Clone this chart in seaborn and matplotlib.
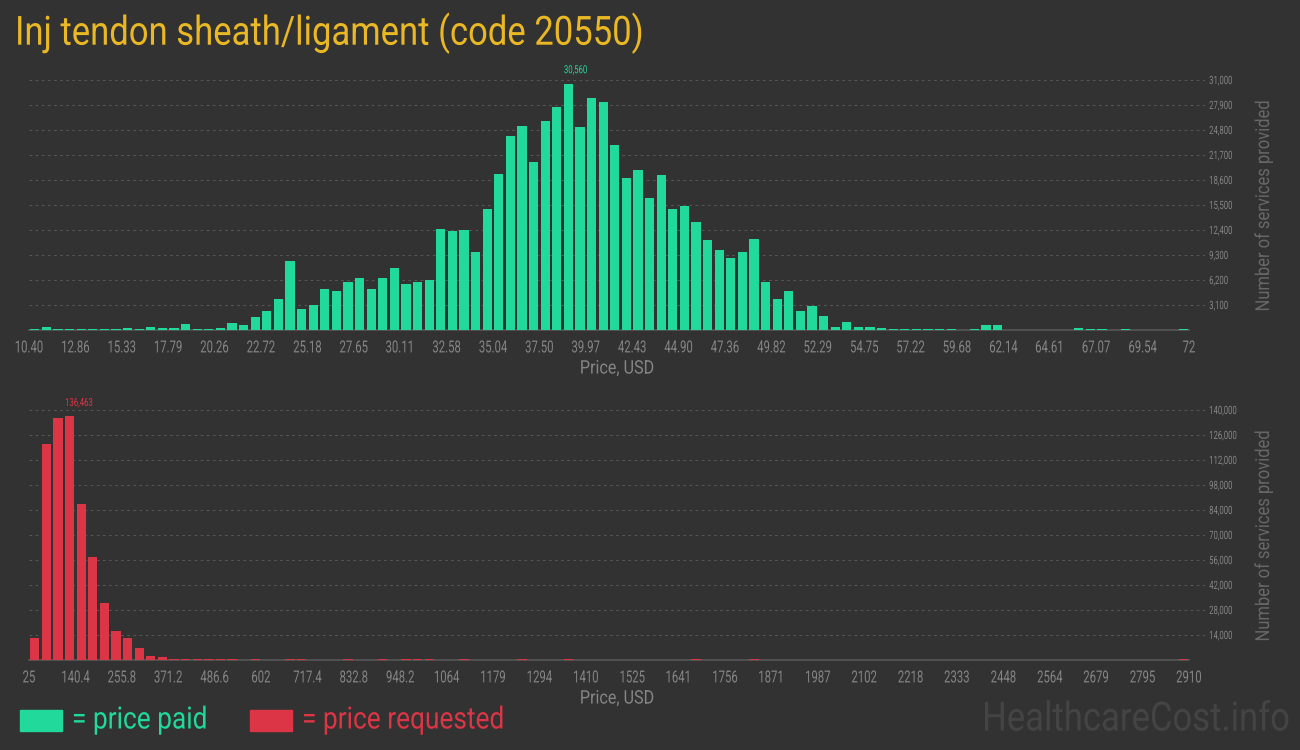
import numpy as np
import pandas as pd
import matplotlib
matplotlib.use("Agg")
import matplotlib.pyplot as plt
import seaborn as sns
from matplotlib.patches import Rectangle
from matplotlib.patheffects import AbstractPathEffect
from matplotlib.transforms import Affine2D

# ---------------- data ----------------
paid_min, paid_max = 10.40, 72.0
paid_counts = [
    160, 410, 170, 160, 160, 160, 160, 170, 290, 170,
    410, 290, 290, 790, 160, 170, 290, 910, 660, 1650,
    2400, 3890, 8600, 2650, 3140, 5130, 4880, 5990, 6490, 5130,
    6490, 7730, 5750, 5990, 6240, 12560, 12320, 12440, 9710, 15040,
    19380, 24090, 25330, 20870, 25950, 27690, 30560, 25210, 28810, 28310,
    22980, 18890, 19880, 16410, 19260, 15040, 15420, 13430, 11200, 9960,
    8970, 9710, 11320, 5990, 3890, 4880, 2400, 3020, 1780, 410,
    1030, 410, 410, 290, 160, 160, 160, 160, 160, 160,
    0, 160, 660, 660, 0, 0, 0, 0, 0, 0,
    290, 170, 160, 0, 160, 0, 0, 0, 0, 160,
]
paid_ticklabels = ["10.40", "12.86", "15.33", "17.79", "20.26", "22.72", "25.18",
                   "27.65", "30.11", "32.58", "35.04", "37.50", "39.97", "42.43",
                   "44.90", "47.36", "49.82", "52.29", "54.75", "57.22", "59.68",
                   "62.14", "64.61", "67.07", "69.54", "72"]
paid_yticks = [3100, 6200, 9300, 12400, 15500, 18600, 21700, 24800, 27900, 31000]

req_min, req_max = 25.0, 2910.0
req_counts = [
    12500, 121200, 135700, 136463, 87560, 57870, 32110, 16430, 12510, 6910,
    2430, 1870, 350, 750, 350, 350, 350, 350, 0, 350,
    0, 0, 350, 350, 0, 0, 0, 350, 0, 0,
    350, 0, 350, 350, 350, 0, 0, 350, 0, 0,
    0, 0, 350, 0, 0, 0, 350, 0, 0, 0,
    0, 0, 0, 0, 0, 0, 0, 350, 0, 0,
    0, 0, 350, 0, 0, 0, 0, 0, 0, 0,
    0, 0, 0, 0, 0, 0, 0, 0, 0, 0,
    0, 0, 0, 0, 0, 0, 0, 0, 0, 0,
    0, 0, 0, 0, 0, 0, 0, 0, 0, 350,
]
req_ticklabels = ["25", "140.4", "255.8", "371.2", "486.6", "602", "717.4", "832.8",
                  "948.2", "1064", "1179", "1294", "1410", "1525", "1641", "1756",
                  "1871", "1987", "2102", "2218", "2333", "2448", "2564", "2679",
                  "2795", "2910"]
req_yticks = [14000, 28000, 42000, 56000, 70000, 84000, 98000, 112000, 126000, 140000]

# ---------------- style ----------------
BG = "#323232"
GREEN = "#20d99b"
RED = "#dc3545"
GOLD = "#e9b824"
GRAY = "#858585"
GRID = "#555555"

sns.set_theme(style="dark", rc={
    "figure.facecolor": BG, "axes.facecolor": BG, "savefig.facecolor": BG,
    "axes.edgecolor": GRID, "text.color": GRAY, "xtick.color": GRAY,
    "ytick.color": GRAY, "axes.labelcolor": GRAY,
})
FONT = ["Roboto", "DejaVu Sans"]
plt.rcParams["font.family"] = FONT


class Condense(AbstractPathEffect):
    """Draw text horizontally squeezed (condensed look)."""

    def __init__(self, sx=0.8, anchor="center"):
        super().__init__()
        self.sx = sx
        self.anchor = anchor

    def draw_path(self, renderer, gc, tpath, affine, rgbFace=None):
        v = tpath.vertices
        if len(v):
            if self.anchor == "center":
                cx = (v[:, 0].min() + v[:, 0].max()) / 2
            elif self.anchor == "right":
                cx = v[:, 0].max()
            else:
                cx = 0.0
        else:
            cx = 0.0
        t = Affine2D().translate(-cx, 0).scale(self.sx, 1).translate(cx, 0)
        renderer.draw_path(gc, tpath, t + affine, rgbFace)


fig = plt.figure(figsize=(13, 7.5), dpi=100)


def panel(rect, vmin, vmax, counts, ticklabels, yticks, color, ymax):
    ax = fig.add_axes(rect)
    nb = len(counts)
    edges = np.linspace(vmin, vmax, nb + 1)
    centers = (edges[:-1] + edges[1:]) / 2
    df = pd.DataFrame({"price": centers, "n": np.asarray(counts, dtype=float)})
    sns.histplot(data=df, x="price", weights="n", bins=edges.tolist(), shrink=0.78,
                 color=color, alpha=1, linewidth=0, ax=ax, zorder=3)
    px_per_unit = 1160.0 / (vmax - vmin)
    ax.set_xlim(vmin, vmax + 16.0 / px_per_unit)
    ax.set_ylim(0, ymax)
    ax.set_yticks(yticks)
    ax.set_yticklabels([f"{v:,}" for v in yticks], fontsize=8.2)
    ax.yaxis.tick_right()
    ax.tick_params(axis="y", length=0, pad=3, labelcolor=GRAY)
    ax.grid(axis="y", color=GRID, linestyle=(0, (2.5, 3)), linewidth=0.8)
    ax.grid(axis="x", visible=False)
    major = edges[::4]
    ax.set_xticks(major)
    ax.set_xticklabels(ticklabels, fontsize=12)
    ax.set_xticks(edges, minor=True)
    ax.tick_params(axis="x", which="major", length=5, width=1, color=GRID,
                   pad=2.5, labelcolor=GRAY)
    ax.tick_params(axis="x", which="minor", length=3, width=0.8, color=GRID)
    for s in ["top", "left", "right"]:
        ax.spines[s].set_visible(False)
    ax.spines["bottom"].set_bounds(vmin, vmax)
    ax.spines["bottom"].set_color(GRID)
    ax.spines["bottom"].set_zorder(2)
    for lbl in ax.get_xticklabels():
        lbl.set_path_effects([Condense(0.68, "center")])
    for lbl in ax.get_yticklabels():
        lbl.set_path_effects([Condense(0.68, "left")])
    xl = ax.set_xlabel("Price, USD", fontsize=13.5, color="#858585", labelpad=3)
    xl.set_path_effects([Condense(0.86, "center")])
    yl = ax.set_ylabel("Number of services provided", fontsize=14, color="#676767")
    yl.set_path_effects([Condense(0.85, "center")])
    ax.yaxis.set_label_position("right")
    ax.yaxis.set_label_coords((1255 - 29) / 1176, 0.5)
    i = int(np.argmax(counts))
    ann = ax.annotate(f"{counts[i]:,}",
                      xy=(centers[i] - (edges[1] - edges[0]) * 0.39, counts[i]),
                      xytext=(0, 6), textcoords="offset points", ha="left",
                      va="bottom", fontsize=8, color=color)
    ann.set_path_effects([Condense(0.7, "left")])
    return ax


W = 1176 / 1300
panel([29 / 1300, 1 - 330 / 750, W, 250 / 750], paid_min, paid_max, paid_counts,
      paid_ticklabels, paid_yticks, GREEN, 31000)
panel([29 / 1300, 1 - 660 / 750, W, 250 / 750], req_min, req_max, req_counts,
      req_ticklabels, req_yticks, RED, 140000)

t = fig.text(15 / 1300, 1 - 33 / 750, "Inj tendon sheath/ligament (code 20550)",
             fontsize=29, color=GOLD, ha="left", va="center")
t.set_path_effects([Condense(0.86, "left")])

fig.patches.append(Rectangle((20 / 1300, 1 - 731 / 750), 42 / 1300, 21 / 750,
                             transform=fig.transFigure, color=GREEN))
t = fig.text(72 / 1300, 1 - 720 / 750, "= price paid", fontsize=22, color=GREEN,
             ha="left", va="center")
t.set_path_effects([Condense(0.86, "left")])
fig.patches.append(Rectangle((250 / 1300, 1 - 731 / 750), 42 / 1300, 21 / 750,
                             transform=fig.transFigure, color=RED))
t = fig.text(302 / 1300, 1 - 720 / 750, "= price requested", fontsize=22, color=RED,
             ha="left", va="center")
t.set_path_effects([Condense(0.86, "left")])
t = fig.text(1290 / 1300, 1 - 719 / 750, "HealthcareCost.info", fontsize=29,
             color="#444444", ha="right", va="center")
t.set_path_effects([Condense(0.86, "right")])

fig.savefig("out.png", dpi=100, facecolor=BG)
